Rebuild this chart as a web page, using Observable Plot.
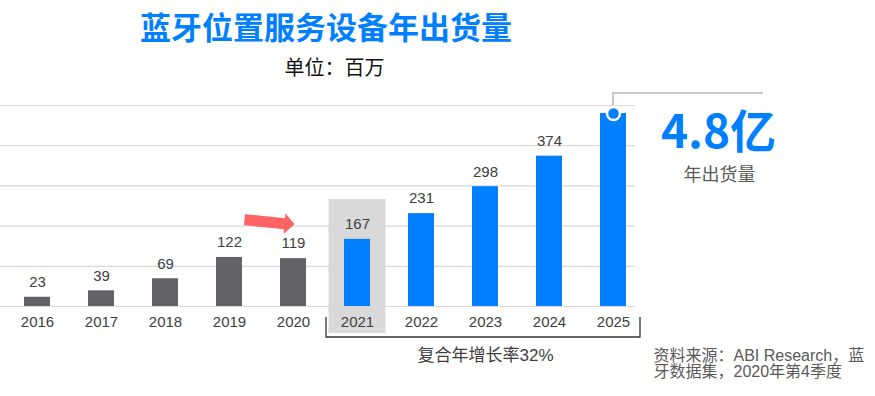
<!DOCTYPE html>
<html><head><meta charset="utf-8">
<script src="https://cdn.jsdelivr.net/npm/d3@7"></script>
<script src="https://cdn.jsdelivr.net/npm/@observablehq/plot@0.6"></script>
<style>
body{margin:0;background:#fff;}
#wrap{position:relative;width:875px;height:396px;overflow:hidden;background:#fff;}
#title{position:absolute;left:0;top:6px;width:652px;text-align:center;font-family:"Noto Sans CJK SC",sans-serif;font-weight:700;font-size:31px;line-height:40px;color:#0080ff;}
#sub{position:absolute;left:0;top:55px;width:669px;text-align:center;font-family:"Noto Sans CJK SC",sans-serif;font-size:20px;line-height:24px;color:#111;}
#chart{position:absolute;left:0;top:90px;}
</style></head>
<body><div id="wrap"><div id="title"></div><div id="sub"></div><div id="chart"></div></div>
<script>
// ---- data ----
const titleText = "蓝牙位置服务设备年出货量";
const subtitleText = "单位：百万";
const years = [2016, 2017, 2018, 2019, 2020, 2021, 2022, 2023, 2024, 2025];
const shipments = [23, 39, 69, 122, 119, 167, 231, 298, 374, 480];
const forecastYears = [2021, 2022, 2023, 2024, 2025];
const highlightYear = [2021];
const cagrLabel = "复合年增长率32%";
const totalCaption = "年出货量";
const sourceLines = ["资料来源：ABI Research，蓝", "牙数据集，2020年第4季度"];

// ---- styles ----
const BLUE = "#0080ff", GRAY = "#636367", GRID = "#d9d9d9", TXT = "#404040";
const FONT = '"Liberation Sans", Arial, "Noto Sans CJK SC", sans-serif';
const CJK = '"Noto Sans CJK SC", sans-serif';

document.getElementById("title").textContent = titleText;
document.getElementById("sub").textContent = subtitleText;

const data = years.map((year, i) => ({year, value: shipments[i]}));
const last = data[data.length - 1];
const prev = data.find(d => d.year === forecastYears[0] - 1);
const firstF = forecastYears[0], lastF = forecastYears[forecastYears.length - 1];
const bigLabel = (last.value / 100).toFixed(1) + "亿";

function bracketMark(index, scales) {
  const x = scales.x, y = scales.y;
  const g = d3.create("svg:g");
  const y0 = y(0);
  const xl = x(firstF) - 31, xr = x(lastF) + 27;
  g.append("path")
    .attr("d", `M${xl},${y0 + 11}V${y0 + 31}H${xr}V${y0 + 11}`)
    .attr("fill", "none").attr("stroke", "#333").attr("stroke-width", 1.3);
  // callout line from the last bar
  const xc = x(last.year);
  g.append("path")
    .attr("d", `M${xc},${y(last.value)}V${y(500) - 12}H${xc + 150}`)
    .attr("fill", "none").attr("stroke", "#c8c8c8").attr("stroke-width", 2);
  return g.node();
}

function arrowMark(index, scales) {
  const x = scales.x, y = scales.y;
  const top = y(prev.value);
  const tail = [x(prev.year - 1) + 15.5, top - 38.5];
  const base = [x(prev.year) - 8.5, top - 34.5];
  const tip = [x(prev.year) + 1.5, top - 34];
  const dx = tip[0] - tail[0], dy = tip[1] - tail[1];
  const L = Math.hypot(dx, dy), nx = -dy / L, ny = dx / L;
  const w = 5.5, h = 10.5;
  const pts = [
    [tail[0] + nx * w, tail[1] + ny * w],
    [base[0] + nx * w, base[1] + ny * w],
    [base[0] + nx * h, base[1] + ny * h],
    tip,
    [base[0] - nx * h, base[1] - ny * h],
    [base[0] - nx * w, base[1] - ny * w],
    [tail[0] - nx * w, tail[1] - ny * w]
  ];
  return d3.create("svg:path")
    .attr("d", "M" + pts.map(p => p.join(",")).join("L") + "Z")
    .attr("fill", "#ff6363").node();
}

const yearLabels = Plot.axisX
  ? Plot.axisX({ticks: years, tickSize: 0, tickPadding: 10, tickFormat: d => String(d), fontSize: 15, color: TXT, label: null})
  : Plot.text(years, {x: d => d, y: 0, dy: 15, text: d => String(d), fontSize: 15, fill: TXT});

const chart = Plot.plot({
  width: 875, height: 306,
  marginTop: 15, marginBottom: 90, marginLeft: 0, marginRight: 240,
  style: {fontFamily: FONT, fontSize: "15px", background: "transparent", overflow: "visible"},
  x: {type: "linear", domain: [years[0] - 0.5, years[years.length - 1] + 0.5], range: [5, 645], axis: null},
  y: {domain: [0, 500], axis: null},
  marks: [
    Plot.rect(highlightYear, {x1: d => d - 0.5, x2: d => d + 0.5, y1: 0, y2: 500,
      insetLeft: 3.5, insetRight: 3.5, insetTop: 94, insetBottom: -27, fill: "#d9d9d9"}),
    Plot.ruleY([0, 100, 200, 300, 400, 500], {stroke: GRID, strokeWidth: 1.2}),
    Plot.rect(data.filter(d => d.year < firstF), {x1: d => d.year - 0.5, x2: d => d.year + 0.5, y1: 0, y2: "value",
      insetLeft: 19, insetRight: 19, fill: GRAY}),
    Plot.rect(data.filter(d => d.year >= firstF), {x1: d => d.year - 0.5, x2: d => d.year + 0.5, y1: 0, y2: "value",
      insetLeft: 19, insetRight: 19, fill: BLUE}),
    Plot.text(data.filter(d => d !== last), {x: "year", y: "value", text: d => String(d.value), dy: -15, fontSize: 15, fill: TXT}),
    yearLabels,
    bracketMark,
    Plot.dot([last], {x: "year", y: "value", r: 6.5, fill: BLUE, stroke: "#fff", strokeWidth: 2.5}),
    Plot.text([bigLabel], {x: last.year, y: last.value, dx: 105, dy: 20, text: d => d,
      fontSize: 46, fontWeight: 700, fontFamily: CJK, fill: BLUE}),
    Plot.text([totalCaption], {x: last.year, y: last.value, dx: 106, dy: 62, text: d => d,
      fontSize: 18, fontFamily: CJK, fill: "#595959"}),
    Plot.text([cagrLabel], {x: (firstF + lastF) / 2, y: 0, dy: 49, text: d => d,
      fontSize: 17, fill: TXT}),
    Plot.text([sourceLines[0]], {x: last.year, y: 0, dx: 40, dy: 49, text: d => d,
      textAnchor: "start", fontSize: 16, fill: "#595959"}),
    Plot.text([sourceLines[1]], {x: last.year, y: 0, dx: 40, dy: 65, text: d => d,
      textAnchor: "start", fontSize: 16, fill: "#595959"}),
    arrowMark
  ]
});
document.getElementById("chart").appendChild(chart);
</script>
</body></html>
